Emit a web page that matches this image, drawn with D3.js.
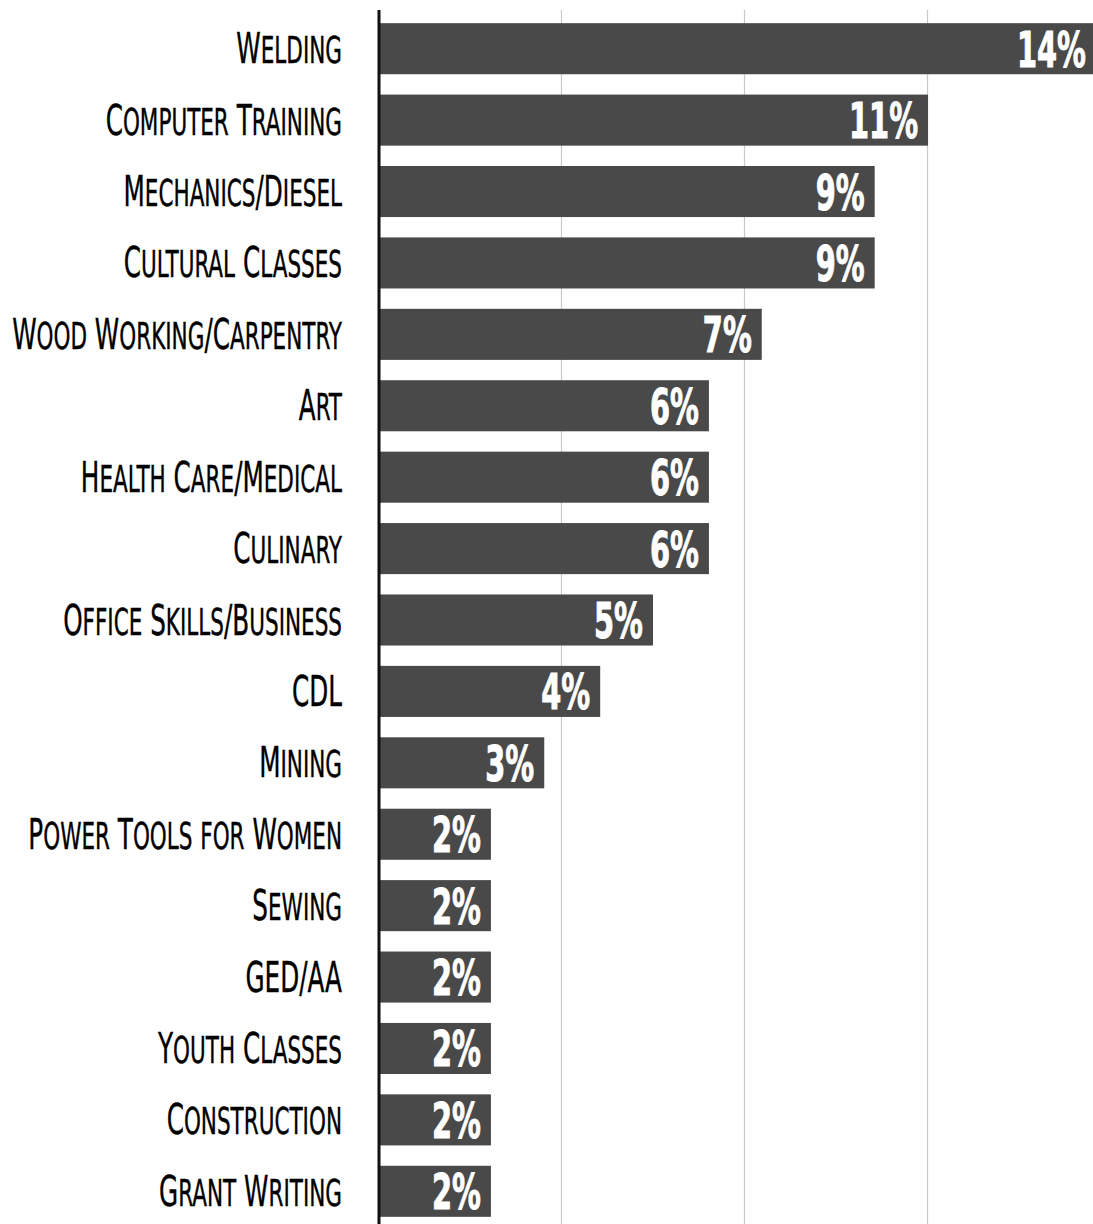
<!DOCTYPE html>
<html>
<head>
<meta charset="utf-8">
<script src="https://cdn.jsdelivr.net/npm/d3@7"></script>
<style>
  body { margin: 0; background: #fff; }
  svg text { white-space: pre; }
</style>
</head>
<body>
<svg id="chart" width="1093" height="1224"></svg>
<script>
// Training programmes requested, share of responses (%)
const categories = [
  "Welding", "Computer Training", "Mechanics/Diesel", "Cultural Classes",
  "Wood Working/Carpentry", "Art", "Health Care/Medical", "Culinary",
  "Office Skills/Business", "CDL", "Mining", "Power Tools for Women",
  "Sewing", "GED/AA", "Youth Classes", "Construction", "Grant Writing"
];
const values = [
  13.72, 10.51, 9.49, 9.49,
  7.33, 6.32, 6.32, 6.32,
  5.25, 4.24, 3.17, 2.15,
  2.15, 2.15, 2.15, 2.15, 2.15
];
const gridTicks = [3.5, 7, 10.5, 14];

const W = 1093, H = 1224;
const axisX = 378.5, gridTop = 10;
const svg = d3.select("#chart");

const x = d3.scaleLinear().domain([0, 14]).range([axisX, axisX + 183 * 4]);
const y = d3.scaleBand()
  .domain(categories)
  .range([13, 1227])
  .paddingInner(0.285)
  .paddingOuter(0.1425);

const rows = categories.map((c, i) => ({ cat: c, val: values[i] }));

// light vertical gridlines
svg.append("g")
  .selectAll("line")
  .data(gridTicks)
  .join("line")
  .attr("x1", d => x(d)).attr("x2", d => x(d))
  .attr("y1", gridTop).attr("y2", H)
  .attr("stroke", "#c8c8c8")
  .attr("stroke-width", 1.2);

// bars
svg.append("g")
  .selectAll("rect")
  .data(rows)
  .join("rect")
  .attr("x", x(0))
  .attr("y", d => y(d.cat))
  .attr("width", d => x(d.val) - x(0))
  .attr("height", y.bandwidth())
  .attr("fill", "#494949");

// baseline axis
svg.append("line")
  .attr("x1", axisX + 0.5).attr("x2", axisX + 0.5)
  .attr("y1", gridTop).attr("y2", H)
  .attr("stroke", "#111")
  .attr("stroke-width", 3);

// category labels: capitals at full size, lower-case letters as small capitals
const labelFont = "'Liberation Sans Narrow', 'DejaVu Sans Condensed', 'Roboto', sans-serif";
const bigSize = 43, smallSize = 37.5;
function runs(str) {
  const out = [];
  for (const ch of str) {
    const small = ch !== ch.toUpperCase();
    const last = out[out.length - 1];
    if (last && last.small === small) last.text += ch.toUpperCase();
    else out.push({ small, text: ch.toUpperCase() });
  }
  return out;
}

const labelRight = 342;
const labels = svg.append("g")
  .selectAll("text")
  .data(rows)
  .join("text")
  .attr("text-anchor", "end")
  .attr("font-family", labelFont)
  .attr("fill", "#000")
  .attr("stroke", "#000")
  .attr("stroke-width", 0.4);
labels.selectAll("tspan")
  .data(d => runs(d.cat))
  .join("tspan")
  .attr("font-size", d => d.small ? smallSize : bigSize)
  .text(d => d.text);

// squeeze the label face to a tall condensed look
const widest = d3.max(labels.nodes(), n => n.getComputedTextLength());
const labelSx = 330 / widest;
labels.attr("transform", d =>
  `translate(${labelRight},${y(d.cat) + y.bandwidth() / 2 + 14.5}) scale(${labelSx},1)`);

// value labels inside the bar ends
const fmt = v => Math.round(v) + "%";
const valueFont = "'Liberation Sans Narrow', 'DejaVu Sans Condensed', 'Roboto', sans-serif";
const valLabels = svg.append("g")
  .selectAll("text")
  .data(rows)
  .join("text")
  .attr("text-anchor", "end")
  .attr("font-family", valueFont)
  .attr("font-weight", "bold")
  .attr("font-size", 50)
  .attr("fill", "#fff")
  .attr("stroke", "#fff")
  .attr("stroke-width", 1)
  .text(d => fmt(d.val));
const refWidth = valLabels.filter((d, i) => i === 0).node().getComputedTextLength();
const valSx = 69 / refWidth;
valLabels.attr("transform", d =>
  `translate(${x(d.val) - 10},${y(d.cat) + y.bandwidth() / 2 + 18}) scale(${valSx},1)`);
</script>
</body>
</html>
